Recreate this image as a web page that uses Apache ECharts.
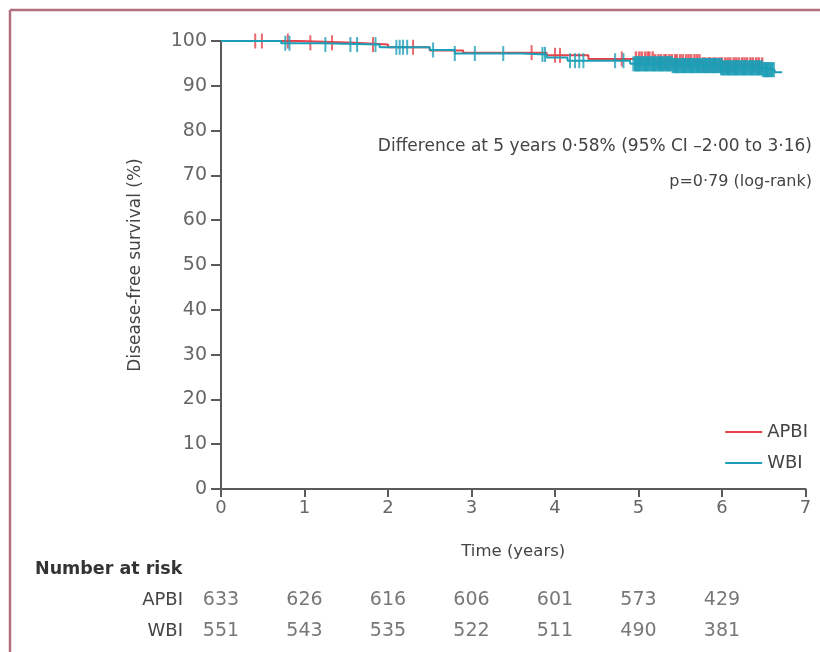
<!DOCTYPE html>
<html>
<head>
<meta charset="utf-8">
<title>Disease-free survival</title>
<script src="https://cdn.jsdelivr.net/npm/echarts@6/dist/echarts.min.js"></script>
<style>
  html, body { margin: 0; padding: 0; background: #fff; }
  #chart { width: 820px; height: 652px; }
</style>
</head>
<body>
<div id="chart"></div>
<script>
// Kaplan-Meier steps [time in years, survival %]
var apbiSteps = [[0, 100], [0.95, 99.6], [1.6, 99.2], [2.0, 98.6], [2.5, 97.9], [2.9, 97.4], [3.9, 96.8], [4.4, 96.0], [5.2, 95.4], [5.75, 94.7], [6.5, 94.6]];
var wbiSteps = [[0, 100], [0.72, 99.5], [1.2, 99.2], [1.9, 98.6], [2.5, 98.0], [2.8, 97.2], [3.6, 97.0], [3.9, 96.3], [4.15, 95.6], [4.9, 94.9], [5.4, 94.5], [6.0, 94.0], [6.5, 93.6], [6.63, 93.0], [6.72, 92.9]];

// censoring times (years): scattered early ones, then the dense run after 5 years
var apbiCensorEarly = [0.41, 0.49, 0.8, 1.07, 1.33, 1.82, 2.3, 3.72, 4.0, 4.06, 4.8];
var apbiCensorLate = [4.97, 5.01, 5.04, 5.08, 5.11, 5.13, 5.17, 5.2, 5.24, 5.27, 5.31, 5.33, 5.37, 5.4, 5.44, 5.46,
  5.5, 5.53, 5.57, 5.6, 5.63, 5.67, 5.7, 5.73, 5.77, 5.8, 5.84, 5.86, 5.9, 5.93, 5.97, 6.0, 6.04, 6.07, 6.1, 6.14,
  6.17, 6.2, 6.24, 6.27, 6.3, 6.34, 6.37, 6.41, 6.44, 6.48];
var wbiCensorEarly = [0.77, 0.82, 1.25, 1.55, 1.63, 1.85, 2.1, 2.14, 2.18, 2.23, 2.54, 2.8, 3.04, 3.38, 3.85, 3.88,
  4.18, 4.24, 4.29, 4.34, 4.72, 4.82];
var wbiCensorLate = [4.95, 4.97, 4.99, 5.01, 5.03, 5.06, 5.08, 5.1, 5.12, 5.15, 5.17, 5.19, 5.21, 5.24, 5.26, 5.28,
  5.3, 5.33, 5.35, 5.37, 5.39, 5.42, 5.44, 5.46, 5.48, 5.51, 5.53, 5.55, 5.57, 5.6, 5.62, 5.64, 5.66, 5.69, 5.71,
  5.73, 5.75, 5.78, 5.8, 5.82, 5.84, 5.87, 5.89, 5.91, 5.93, 5.96, 5.98, 6.0, 6.02, 6.05, 6.07, 6.09, 6.11, 6.14,
  6.16, 6.18, 6.2, 6.23, 6.25, 6.27, 6.29, 6.32, 6.34, 6.36, 6.38, 6.41, 6.43, 6.45, 6.47, 6.5, 6.52, 6.54, 6.56,
  6.59, 6.61];

// number at risk
var riskYears = [0, 1, 2, 3, 4, 5, 6];
var apbiRisk = [633, 626, 616, 606, 601, 573, 429];
var wbiRisk = [551, 543, 535, 522, 511, 490, 381];
var groups = ['APBI', 'WBI'];

var RED = '#e5434b';
var TEAL = '#1c9fb6';
var AXIS = '#5a5a5a';
var FONT = 'DejaVu Sans, Verdana, sans-serif';

function survAt(steps, t) {
  var v = steps[0][1];
  for (var i = 0; i < steps.length; i++) {
    if (steps[i][0] <= t) v = steps[i][1];
  }
  return v;
}
function censorPoints(steps, times) {
  return times.map(function (t) { return [t, survAt(steps, t)]; });
}
function riskPoints(name, vals) {
  return riskYears.map(function (t, i) { return [t, name, vals[i]]; });
}
function censorSeries(name, steps, times, color, w, z) {
  return {
    name: name, type: 'scatter', data: censorPoints(steps, times),
    xAxisIndex: 0, yAxisIndex: 0, symbol: 'rect', symbolSize: [w, 15],
    itemStyle: { color: color }, z: z
  };
}

var chart = echarts.init(document.getElementById('chart'));

var option = {
  animation: false,
  textStyle: { fontFamily: FONT },
  grid: [
    { left: 221, right: 14.5, top: 41, bottom: 163 },
    { left: 221, right: 14.5, top: 585, height: 62 }
  ],
  legend: {
    orient: 'vertical',
    right: 7,
    top: 418,
    itemWidth: 37,
    itemHeight: 2,
    itemGap: 13,
    textStyle: { color: '#444', fontSize: 18, fontFamily: FONT },
    data: [{ name: 'APBI', icon: 'rect' }, { name: 'WBI', icon: 'rect' }]
  },
  xAxis: [
    {
      gridIndex: 0, type: 'value', min: 0, max: 7, interval: 1,
      name: 'Time (years)', nameLocation: 'middle', nameGap: 54,
      nameTextStyle: { color: '#444', fontSize: 16.5 },
      axisLine: { lineStyle: { color: AXIS, width: 2 } },
      axisTick: { show: true, length: 8, lineStyle: { color: AXIS, width: 2 } },
      axisLabel: { color: '#666', fontSize: 18, margin: 10 },
      splitLine: { show: false }
    },
    {
      gridIndex: 1, type: 'value', min: 0, max: 7, show: false
    }
  ],
  yAxis: [
    {
      gridIndex: 0, type: 'value', min: 0, max: 100, interval: 10,
      name: 'Disease-free survival (%)', nameLocation: 'middle', nameGap: 77, nameRotate: 90,
      nameTextStyle: { color: '#444', fontSize: 17 },
      axisLine: { show: true, lineStyle: { color: AXIS, width: 2 } },
      axisTick: { show: true, length: 10, lineStyle: { color: AXIS, width: 2 } },
      axisLabel: { color: '#666', fontSize: 19, margin: 14 },
      splitLine: { show: false }
    },
    {
      gridIndex: 1, type: 'category', data: groups, inverse: true,
      axisLine: { show: false }, axisTick: { show: false },
      axisLabel: { color: '#444', fontSize: 18, margin: 38 }
    }
  ],
  series: [
    {
      name: 'APBI', type: 'line', step: 'end', data: apbiSteps, showSymbol: false,
      xAxisIndex: 0, yAxisIndex: 0, color: RED,
      lineStyle: { color: RED, width: 2 }, z: 2
    },
    censorSeries('APBI', apbiSteps, apbiCensorEarly, RED, 2, 2),
    censorSeries('APBI', apbiSteps, apbiCensorLate, RED, 2.5, 2),
    {
      name: 'WBI', type: 'line', step: 'end', data: wbiSteps, showSymbol: false,
      xAxisIndex: 0, yAxisIndex: 0, color: TEAL,
      lineStyle: { color: TEAL, width: 2 }, z: 3
    },
    censorSeries('WBI', wbiSteps, wbiCensorEarly, TEAL, 2, 3),
    censorSeries('WBI', wbiSteps, wbiCensorLate, TEAL, 4, 3),
    {
      type: 'scatter', xAxisIndex: 1, yAxisIndex: 1, symbolSize: 0, silent: true,
      data: riskPoints('APBI', apbiRisk).concat(riskPoints('WBI', wbiRisk)),
      label: {
        show: true, position: 'inside', color: '#555', fontSize: 19,
        formatter: function (p) { return p.value[2]; }
      }
    }
  ],
  graphic: [
    { type: 'line', shape: { x1: 10, y1: 10, x2: 820, y2: 10 }, style: { stroke: '#b0707f', lineWidth: 2.5 } },
    { type: 'line', shape: { x1: 10, y1: 10, x2: 10, y2: 652 }, style: { stroke: '#b0707f', lineWidth: 2.5 } },
    {
      type: 'text', right: 8, top: 138,
      style: { text: 'Difference at 5 years 0·58% (95% CI –2·00 to 3·16)', fill: '#444', font: '17px ' + FONT, textAlign: 'right' }
    },
    {
      type: 'text', right: 8, top: 174,
      style: { text: 'p=0·79 (log-rank)', fill: '#444', font: '16px ' + FONT, textAlign: 'right' }
    },
    {
      type: 'text', left: 35, top: 560,
      style: { text: 'Number at risk', fill: '#333', font: 'bold 17.5px ' + FONT }
    }
  ]
};

chart.setOption(option);
</script>
</body>
</html>
